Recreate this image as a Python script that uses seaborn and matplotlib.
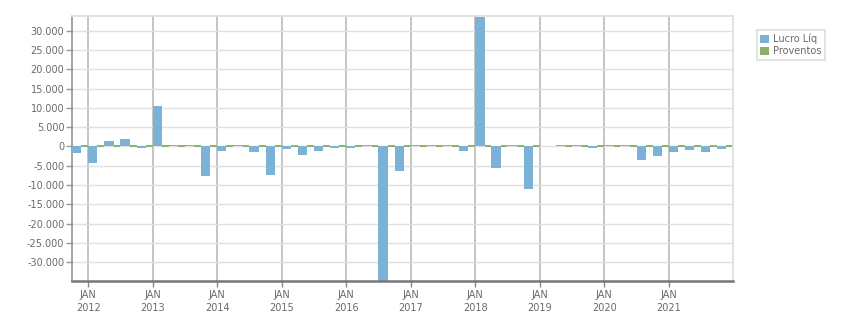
import numpy as np
import pandas as pd
import seaborn as sns
import matplotlib
matplotlib.use("Agg")
import matplotlib.pyplot as plt
from matplotlib.ticker import FuncFormatter, FixedLocator
from matplotlib.patches import Patch

# ---- data (quarterly, starting Q4 2011) ----
quarters = ["2011Q4",
            "2012Q1", "2012Q2", "2012Q3", "2012Q4",
            "2013Q1", "2013Q2", "2013Q3", "2013Q4",
            "2014Q1", "2014Q2", "2014Q3", "2014Q4",
            "2015Q1", "2015Q2", "2015Q3", "2015Q4",
            "2016Q1", "2016Q2", "2016Q3", "2016Q4",
            "2017Q1", "2017Q2", "2017Q3", "2017Q4",
            "2018Q1", "2018Q2", "2018Q3", "2018Q4",
            "2019Q1", "2019Q2", "2019Q3", "2019Q4",
            "2020Q1", "2020Q2", "2020Q3", "2020Q4",
            "2021Q1", "2021Q2", "2021Q3", "2021Q4"]
lucro_liq = [-1700,
             -4300, 1300, 1800, -500,
             10400, 300, 300, -7600,
             -1200, 300, -1500, -7400,
             -700, -2100, -1300, -450,
             -450, 250, -36000, -6300,
             250, 250, 250, -1200,
             33500, -5600, 250, -11000,
             np.nan, 250, 250, -450,
             250, 250, -3500, -2500,
             -1500, -950, -1500, -700]
proventos = [0,
             0, 0, 0, 0,
             0, 0, 0, 0,
             0, 0, 0, 0,
             0, 0, 0, 0,
             0, 0, 0, 0,
             0, 0, 0, 0,
             0, 0, 0, 0,
             np.nan, 0, 0, 0,
             0, 0, 0, 0,
             0, 0, 0, 0]
series_names = ["Lucro Líq", "Proventos"]
yticks = [-30000, -25000, -20000, -15000, -10000, -5000, 0,
          5000, 10000, 15000, 20000, 25000, 30000]

BLUE = "#7BB2D5"
GREEN = "#8AB26C"
TXT = "#6a6a6a"

sns.set_style("white")
plt.rcParams["font.family"] = ["DejaVu Sans"]

fig = plt.figure(figsize=(8.51, 3.13), dpi=100)
ax = fig.add_axes([72 / 851, 1 - 280.7 / 313, (733.3 - 72) / 851, (280.7 - 16) / 313])

idx = np.arange(len(quarters))
w_blue = 0.576
df_l = pd.DataFrame({"pos": idx + w_blue / 2, "val": lucro_liq}).dropna()
df_p = pd.DataFrame({"pos": idx + w_blue + (1 - w_blue) / 2, "val": proventos}).dropna()

sns.barplot(data=df_p, x="pos", y="val", native_scale=True, width=1 - w_blue,
            color=GREEN, edgecolor=GREEN, linewidth=1.4, saturation=1,
            errorbar=None, ax=ax, zorder=2)
sns.barplot(data=df_l, x="pos", y="val", native_scale=True, width=w_blue,
            color=BLUE, edgecolor="none", linewidth=0, saturation=1,
            errorbar=None, ax=ax, zorder=3)

ax.set_xlim(0, len(quarters))
ax.set_ylim(-34800, 33800)

# y axis
ax.yaxis.set_major_locator(FixedLocator(yticks))
ax.yaxis.set_major_formatter(FuncFormatter(lambda v, p: f"{int(round(v)):,}".replace(",", ".")))
ax.grid(axis="y", color="#e0e0e0", linewidth=1.0)

# x axis: January of each year
jan_pos = [i for i, q in enumerate(quarters) if q.endswith("Q1")]
jan_lab = ["JAN\n" + quarters[i][:4] for i in jan_pos]
ax.set_xticks(jan_pos)
ax.set_xticklabels(jan_lab, linespacing=1.35)
ax.grid(axis="x", color="#b4b4b4", linewidth=1.1)
ax.set_axisbelow(True)

ax.set_xlabel("")
ax.set_ylabel("")
ax.tick_params(axis="y", direction="out", length=4, width=1, color="#999999",
               labelsize=7, labelcolor=TXT, pad=1.5, left=True)
ax.tick_params(axis="x", direction="out", length=4, width=1, color="#888888",
               labelsize=7, labelcolor=TXT, pad=3, bottom=True)

for s in ["top", "right"]:
    ax.spines[s].set_visible(True)
    ax.spines[s].set_color("#e0e0e0")
    ax.spines[s].set_linewidth(1.3)
ax.spines["left"].set_color("#8a8a8a")
ax.spines["left"].set_linewidth(1.1)
ax.spines["bottom"].set_color("#777777")
ax.spines["bottom"].set_linewidth(1.8)
ax.spines["bottom"].set_zorder(5)

handles = [Patch(facecolor=BLUE, edgecolor="none"), Patch(facecolor=GREEN, edgecolor="none")]
leg = fig.legend(handles, series_names, loc="upper left",
                 bbox_to_anchor=(756.5 / 851, 1 - 30 / 313),
                 frameon=True, fancybox=False, framealpha=1,
                 edgecolor="#dddddd", fontsize=7, handlelength=0.9, handleheight=0.9,
                 handletextpad=0.35, borderpad=0.4, labelspacing=0.2, borderaxespad=0)
leg.get_frame().set_linewidth(1.2)
for t in leg.get_texts():
    t.set_color(TXT)

fig.savefig("out.png", dpi=100)
